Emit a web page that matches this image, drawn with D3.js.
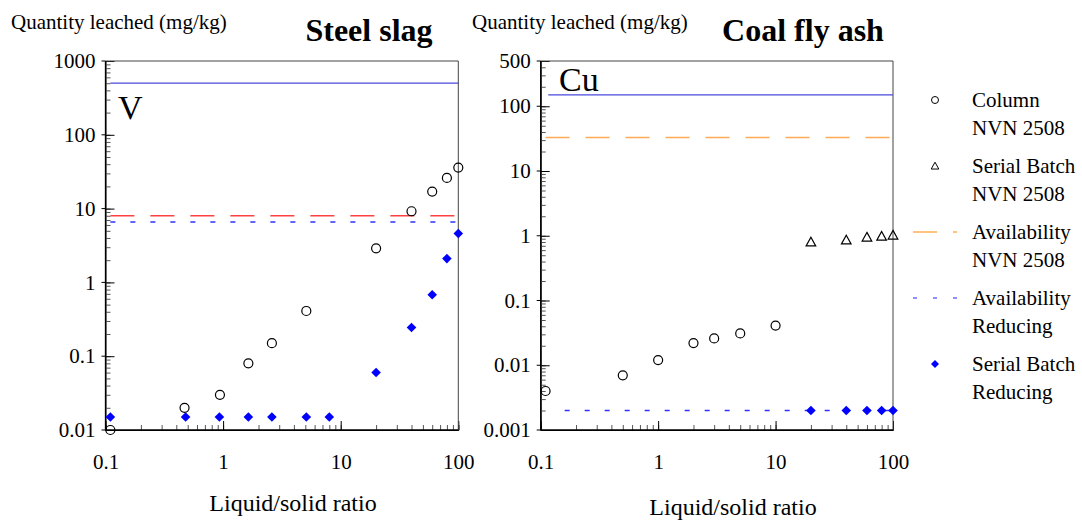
<!DOCTYPE html>
<html>
<head>
<meta charset="utf-8">
<script src="https://cdn.jsdelivr.net/npm/d3@7"></script>
<style>
  body { margin: 0; background: #fff; }
  svg { display: block; }
  svg text { font-family: "Liberation Serif", Tinos, "Times New Roman", Times, "DejaVu Serif", serif; }
</style>
</head>
<body>
<svg id="chart"></svg>
<script>
// steel slag (V) data
let slagColumnX = [0.11, 0.47, 0.94, 1.64, 2.6, 5.1, 20, 40, 60, 80, 100];
let slagColumnY = [0.01, 0.02, 0.03, 0.08, 0.15, 0.41, 2.9, 9.2, 17, 26, 36];
let slagReducingX = [0.11, 0.48, 0.93, 1.64, 2.6, 5.1, 8, 20, 40, 60, 80, 100];
let slagReducingY = [0.015, 0.015, 0.015, 0.015, 0.015, 0.015, 0.015, 0.06, 0.245, 0.68, 2.1, 4.6];
let slagTotal = 500;
let slagAvailNVN = 8;
let slagAvailReducing = 6.6;

// coal fly ash (Cu) data
let ashColumnX = [0.11, 0.5, 1, 2, 3, 5, 10];
let ashColumnY = [0.004, 0.007, 0.012, 0.022, 0.026, 0.031, 0.041];
let ashSerialX = [20, 40, 60, 80, 100];
let ashSerialY = [0.8, 0.86, 0.95, 0.98, 1.02];
let ashReducingX = [20, 40, 60, 80, 100];
let ashReducingY = [0.002, 0.002, 0.002, 0.002, 0.002];
let ashTotal = 150;
let ashAvailNVN = 33;
let ashAvailReducing = 0.002;

// tick labels
let xTicks = [0.1, 1, 10, 100];
let slagYTicks = [0.01, 0.1, 1, 10, 100, 1000];
let ashYTicks = [0.001, 0.01, 0.1, 1, 10, 100, 500];

// legend
let legendLabels = [
    ['Column', 'NVN 2508'],
    ['Serial Batch', 'NVN 2508'],
    ['Availability', 'NVN 2508'],
    ['Availability', 'Reducing'],
    ['Serial Batch', 'Reducing']
];

let width = 1082;
let height = 520;
let svg = d3.select('#chart').attr('width', width).attr('height', height);

let blueSolid = '#4848dc';
let diamondBlue = '#0000ff';

//minor ticks: every 1..9 in each decade inside the domain
let minorTicks = (lo, hi) => {
    let out = [];
    for (let e = Math.floor(Math.log10(lo)); e <= Math.ceil(Math.log10(hi)); e++) {
        for (let m = 1; m < 10; m++) {
            let v = m * Math.pow(10, e);
            if (v >= lo * 0.999 && v <= hi * 1.001) out.push(v);
        }
    }
    return out;
};

let diamond = (r) => `M0,${-r}L${r},0L0,${r}L${-r},0Z`;
let triangle = (r) => `M0,${-r}L${r},${r * 0.8}L${-r},${r * 0.8}Z`;
let circle = 'M4.5,0A4.5,4.5 0 1,1 -4.5,0A4.5,4.5 0 1,1 4.5,0Z';

let drawPanel = (p) => {
    let g = svg.append('g');
    let x = d3.scaleLog().domain([0.1, 100]).range([p.left, p.right]);
    let y = d3.scaleLog().domain(p.yDomain).range([430, 61]);

    // minor ticks
    let xMinor = d3.axisBottom(x).tickValues(minorTicks(0.1, 100)).tickSize(-5).tickFormat('');
    let yMinor = d3.axisLeft(y).tickValues(minorTicks(p.yDomain[0], p.yDomain[1])).tickSize(-5).tickFormat('');
    g.append('g').attr('transform', 'translate(0,430)').call(xMinor)
        .call(a => a.selectAll('line').attr('stroke', '#555'));
    g.append('g').attr('transform', `translate(${p.left},0)`).call(yMinor)
        .call(a => a.selectAll('line').attr('stroke', '#555'));

    // major axes
    let xAxis = d3.axisBottom(x).tickValues(xTicks).tickSize(-9).tickPadding(24).tickFormat(d => String(d));
    let yAxis = d3.axisLeft(y).tickValues(p.yTicks).tickSize(-9).tickPadding(10).tickFormat(d => String(d));
    g.append('g').attr('transform', 'translate(0,430)').call(xAxis)
        .attr('font-family', null).attr('font-size', null)
        .call(a => a.selectAll('text').attr('font-size', 21).attr('fill', '#000'))
        .call(a => a.select('.domain').remove());
    g.append('g').attr('transform', `translate(${p.left},0)`).call(yAxis)
        .attr('font-family', null).attr('font-size', null)
        .call(a => a.selectAll('text').attr('font-size', 21).attr('fill', '#000'))
        .call(a => a.select('.domain').remove());
    // short outer tick at the labeled values
    g.selectAll('.outtick').data(p.yTicks).enter().append('line')
        .attr('x1', p.left - 4).attr('x2', p.left)
        .attr('y1', d => y(d)).attr('y2', d => y(d)).attr('stroke', '#000');

    // frame
    g.append('line').attr('x1', p.left).attr('x2', p.right).attr('y1', 61).attr('y2', 61).attr('stroke', '#444');
    g.append('line').attr('x1', p.right).attr('x2', p.right).attr('y1', 61).attr('y2', 430).attr('stroke', '#444');
    g.append('line').attr('x1', p.left).attr('x2', p.left).attr('y1', 61).attr('y2', 430).attr('stroke', '#000').attr('stroke-width', 1.3);
    g.append('line').attr('x1', p.left).attr('x2', p.right).attr('y1', 430).attr('y2', 430).attr('stroke', '#000').attr('stroke-width', 1.3);

    // horizontal reference lines
    p.hlines.forEach(h => {
        g.append('line')
            .attr('x1', x(h.from)).attr('x2', x(100))
            .attr('y1', y(h.value)).attr('y2', y(h.value))
            .attr('stroke', h.color).attr('stroke-width', h.width || 1.5)
            .attr('stroke-dasharray', h.dash || null);
    });

    // points
    p.series.forEach(s => {
        let pts = s.xs.map((v, i) => [v, s.ys[i]]);
        g.selectAll(null).data(pts).enter().append('path')
            .attr('transform', d => `translate(${x(d[0])},${y(d[1])})`)
            .attr('d', s.shape)
            .attr('fill', s.fill).attr('stroke', s.stroke).attr('stroke-width', 1.2);
    });

    // element label, axis titles
    g.append('text').attr('x', p.elemX).attr('y', p.elemY).attr('font-size', 34).text(p.elem);
    g.append('text').attr('x', p.ylabelX).attr('y', 29).attr('font-size', 21).text('Quantity leached (mg/kg)');
    g.append('text').attr('x', p.titleX).attr('y', 41).attr('font-size', 32).attr('font-weight', 'bold')
        .attr('text-anchor', 'middle').text(p.title);
    g.append('text').attr('x', p.xlabelX).attr('y', p.xlabelY).attr('font-size', 24)
        .attr('text-anchor', 'middle').text('Liquid/solid ratio');
};

drawPanel({
    left: 105.5, right: 458.3, yDomain: [0.01, 1000], yTicks: slagYTicks,
    hlines: [
        { value: slagTotal, from: 0.11, color: blueSolid, width: 1.3 },
        { value: slagAvailNVN, from: 0.11, color: '#ff4040', dash: '24,16' },
        { value: slagAvailReducing, from: 0.11, color: '#3030ff', dash: '5,15' }
    ],
    series: [
        { xs: slagColumnX, ys: slagColumnY, shape: circle, fill: 'none', stroke: '#000' },
        { xs: slagReducingX, ys: slagReducingY, shape: diamond(4.8), fill: diamondBlue, stroke: 'none' }
    ],
    elem: 'V', elemX: 118, elemY: 119,
    ylabelX: 11, title: 'Steel slag', titleX: 369, xlabelX: 293, xlabelY: 511
});

drawPanel({
    left: 540.7, right: 893, yDomain: [0.001, 500], yTicks: ashYTicks,
    hlines: [
        { value: ashTotal, from: 0.116, color: blueSolid, width: 1.3 },
        { value: ashAvailNVN, from: 0.11, color: '#ffaa55', dash: '24,16' },
        { value: ashAvailReducing, from: 0.16, color: '#3030ff', dash: '5,15' }
    ],
    series: [
        { xs: ashColumnX, ys: ashColumnY, shape: circle, fill: 'none', stroke: '#000' },
        { xs: ashSerialX, ys: ashSerialY, shape: triangle(4.8), fill: 'none', stroke: '#000' },
        { xs: ashReducingX, ys: ashReducingY, shape: diamond(4.8), fill: diamondBlue, stroke: 'none' }
    ],
    elem: 'Cu', elemX: 559, elemY: 91,
    ylabelX: 472, title: 'Coal fly ash', titleX: 803, xlabelX: 733, xlabelY: 515
});

// legend
let legend = svg.append('g');
let legendY = d3.scalePoint().domain(d3.range(legendLabels.length)).range([100, 364]);
legendLabels.forEach((lab, i) => {
    let cy = legendY(i);
    legend.append('text').attr('x', 972).attr('y', cy + 7).attr('font-size', 21).text(lab[0]);
    legend.append('text').attr('x', 972).attr('y', cy + 35).attr('font-size', 21).text(lab[1]);
});
legend.append('path').attr('transform', `translate(935,${legendY(0)})`)
    .attr('d', 'M3.5,0A3.5,3.5 0 1,1 -3.5,0A3.5,3.5 0 1,1 3.5,0Z').attr('fill', 'none').attr('stroke', '#000');
legend.append('path').attr('transform', `translate(935,${legendY(1)})`)
    .attr('d', triangle(3.8)).attr('fill', 'none').attr('stroke', '#000');
legend.append('line').attr('x1', 913).attr('x2', 957).attr('y1', legendY(2)).attr('y2', legendY(2))
    .attr('stroke', '#ff8800').attr('stroke-dasharray', '24,16');
legend.append('line').attr('x1', 913).attr('x2', 957).attr('y1', legendY(3)).attr('y2', legendY(3))
    .attr('stroke', '#2020ff').attr('stroke-dasharray', '4,16');
legend.append('path').attr('transform', `translate(935,${legendY(4)})`)
    .attr('d', diamond(4)).attr('fill', diamondBlue);
</script>
</body>
</html>
